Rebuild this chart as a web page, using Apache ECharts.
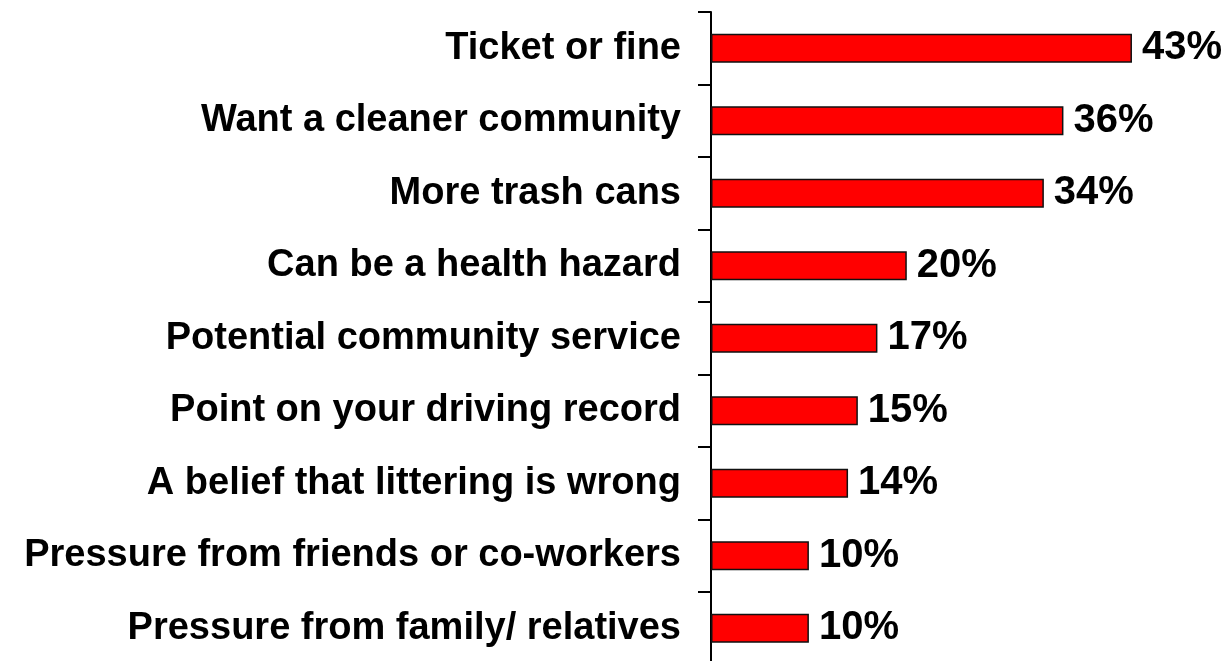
<!DOCTYPE html>
<html>
<head>
<meta charset="utf-8">
<script src="https://cdn.jsdelivr.net/npm/echarts@6/dist/echarts.min.js"></script>
<style>
  html, body { margin: 0; padding: 0; background: #ffffff; overflow: hidden; }
  /* the plot runs a little past the bottom of the window, so the last boundary tick falls out of view */
  #chart { width: 1226px; height: 680px; }
</style>
</head>
<body>
<div id="chart"></div>
<script>
// Reasons people give for not littering (share of respondents, %)
const categories = [
  'Ticket or fine',
  'Want a cleaner community',
  'More trash cans',
  'Can be a health hazard',
  'Potential community service',
  'Point on your driving record',
  'A belief that littering is wrong',
  'Pressure from friends or co-workers',
  'Pressure from family/ relatives'
];
const values = [43, 36, 34, 20, 17, 15, 14, 10, 10];

const chart = echarts.init(document.getElementById('chart'), null, { renderer: 'canvas' });

chart.setOption({
  animation: false,
  backgroundColor: '#ffffff',
  grid: { left: 711, top: 12, width: 489.5, height: 652.5, containLabel: false },
  xAxis: {
    type: 'value',
    min: 0,
    max: 50,
    show: false
  },
  yAxis: {
    type: 'category',
    data: categories,
    inverse: true,
    axisLine: { show: true, lineStyle: { color: '#000000', width: 2 } },
    axisTick: { show: true, length: 13, lineStyle: { color: '#000000', width: 2 } },
    axisLabel: {
      margin: 30,
      color: '#000000',
      fontFamily: '"Liberation Sans", Arial, sans-serif',
      fontWeight: 'bold',
      fontSize: 38
    },
    splitLine: { show: false }
  },
  series: [{
    type: 'bar',
    data: values,
    barWidth: 29,
    itemStyle: { color: '#ff0000', borderColor: '#111111', borderWidth: 1.5 },
    label: {
      show: true,
      position: 'right',
      distance: 10,
      formatter: '{c}%',
      color: '#000000',
      fontFamily: '"Liberation Sans", Arial, sans-serif',
      fontWeight: 'bold',
      fontSize: 40
    }
  }]
});
</script>
</body>
</html>
